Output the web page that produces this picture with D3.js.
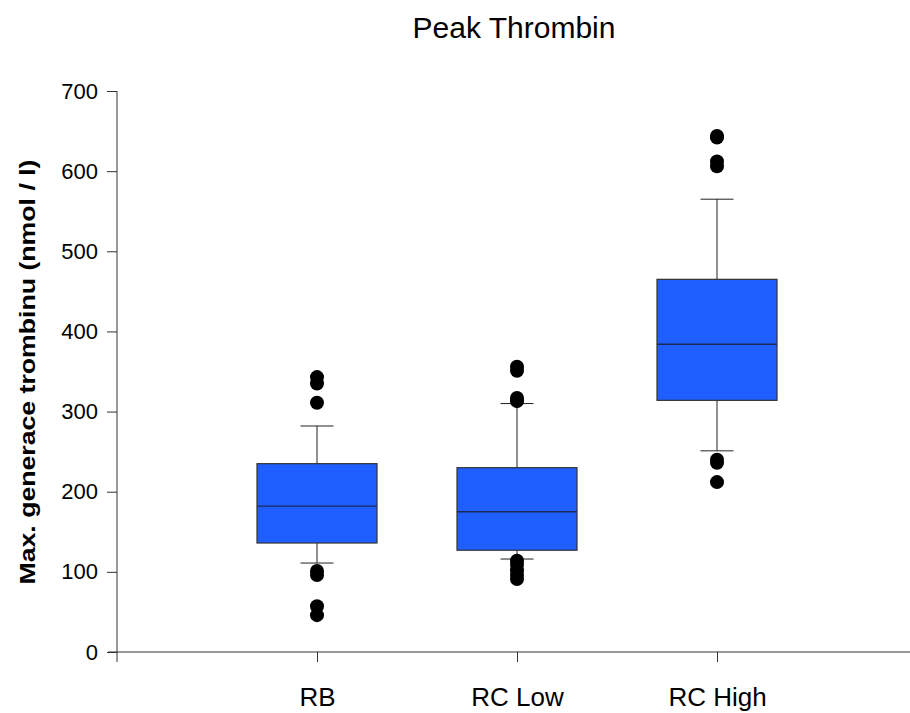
<!DOCTYPE html>
<html>
<head>
<meta charset="utf-8">
<script src="https://cdn.jsdelivr.net/npm/d3@7"></script>
<style>
  body { margin: 0; background: #fff; }
  text { font-family: "Liberation Sans", Arial, sans-serif; fill: #000; }
</style>
</head>
<body>
<svg id="chart" width="910" height="713"></svg>
<script>
// data
var categories = ["RB", "RC Low", "RC High"];
var q1 = [136, 127, 314];
var median = [182, 175, 384];
var q3 = [235, 230, 465];
var whiskerLow = [111, 116, 251];
var whiskerHigh = [282, 310, 565];
var outliers = [
    [343, 335, 311, 101, 96, 57, 46],
    [356, 351, 317, 313, 114, 109, 102, 96, 91],
    [644, 642, 612, 606, 240, 236, 212]
];
var yTicks = [0, 100, 200, 300, 400, 500, 600, 700];

var svg = d3.select("#chart");

var x = d3.scaleLinear().domain([0, 4]).range([117, 917]);
var y = d3.scaleLinear().domain([0, 700]).range([652, 91]);

var boxW = 120, capW = 33;

// title
svg.append("text")
    .attr("x", 514)
    .attr("y", 38)
    .attr("text-anchor", "middle")
    .style("font-size", "30px")
    .text("Peak Thrombin");

// y axis label
svg.append("text")
    .attr("transform", "translate(35,372) rotate(-90)")
    .attr("text-anchor", "middle")
    .attr("textLength", 425)
    .attr("lengthAdjust", "spacingAndGlyphs")
    .style("font-size", "22px")
    .style("font-weight", "bold")
    .text("Max. generace trombinu (nmol / l)");

// axes
var yAxis = svg.append("g")
    .attr("transform", "translate(117,0)")
    .call(d3.axisLeft(y).tickValues(yTicks).tickSize(10).tickPadding(9));
yAxis.select(".domain").attr("stroke", "#333").attr("d", "M0," + y(700) + "V" + y(0));
yAxis.selectAll(".tick line").attr("stroke", "#333");
yAxis.selectAll("text").style("font-size", "22px").attr("fill", "#000");

var xAxis = svg.append("g")
    .attr("transform", "translate(0,652)")
    .call(d3.axisBottom(x).tickValues([1, 2, 3]).tickSize(10).tickFormat(function(d) { return categories[d - 1]; }).tickPadding(26));
xAxis.select(".domain").attr("stroke", "#333").attr("d", "M108,0H910");
xAxis.selectAll(".tick line").attr("stroke", "#333");
xAxis.selectAll("text").style("font-size", "26px").attr("fill", "#000");

// tick crossing the axis at origin
svg.append("line")
    .attr("x1", 117).attr("x2", 117)
    .attr("y1", 652).attr("y2", 662)
    .attr("stroke", "#333");

// boxes
var g = svg.append("g").selectAll("g.box")
    .data(categories)
    .enter().append("g")
    .attr("class", "box");

g.append("line")
    .attr("x1", function(d, i) { return x(i + 1); })
    .attr("x2", function(d, i) { return x(i + 1); })
    .attr("y1", function(d, i) { return y(whiskerHigh[i]); })
    .attr("y2", function(d, i) { return y(q3[i]); })
    .attr("stroke", "#222");

g.append("line")
    .attr("x1", function(d, i) { return x(i + 1); })
    .attr("x2", function(d, i) { return x(i + 1); })
    .attr("y1", function(d, i) { return y(q1[i]); })
    .attr("y2", function(d, i) { return y(whiskerLow[i]); })
    .attr("stroke", "#222");

g.append("line")
    .attr("x1", function(d, i) { return x(i + 1) - capW / 2; })
    .attr("x2", function(d, i) { return x(i + 1) + capW / 2; })
    .attr("y1", function(d, i) { return y(whiskerHigh[i]); })
    .attr("y2", function(d, i) { return y(whiskerHigh[i]); })
    .attr("stroke", "#222");

g.append("line")
    .attr("x1", function(d, i) { return x(i + 1) - capW / 2; })
    .attr("x2", function(d, i) { return x(i + 1) + capW / 2; })
    .attr("y1", function(d, i) { return y(whiskerLow[i]); })
    .attr("y2", function(d, i) { return y(whiskerLow[i]); })
    .attr("stroke", "#222");

g.append("rect")
    .attr("x", function(d, i) { return x(i + 1) - boxW / 2; })
    .attr("y", function(d, i) { return y(q3[i]); })
    .attr("width", boxW)
    .attr("height", function(d, i) { return y(q1[i]) - y(q3[i]); })
    .attr("fill", "#1f5fff")
    .attr("stroke", "#333")
    .attr("stroke-width", 1.2);

g.append("line")
    .attr("x1", function(d, i) { return x(i + 1) - boxW / 2; })
    .attr("x2", function(d, i) { return x(i + 1) + boxW / 2; })
    .attr("y1", function(d, i) { return y(median[i]); })
    .attr("y2", function(d, i) { return y(median[i]); })
    .attr("stroke", "#1a2a55")
    .attr("stroke-width", 1.3);

// outliers
g.each(function(d, i) {
    d3.select(this).selectAll("circle")
        .data(outliers[i])
        .enter().append("circle")
        .attr("cx", x(i + 1))
        .attr("cy", function(v) { return y(v); })
        .attr("r", 7)
        .attr("fill", "#000");
});
</script>
</body>
</html>
